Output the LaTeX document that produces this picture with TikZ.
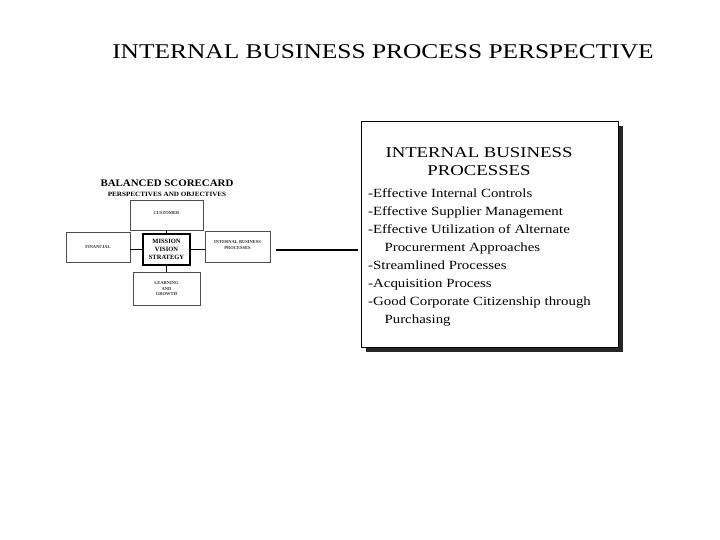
\documentclass[tikz,border=0pt]{standalone}
\usepackage{fontspec}
\setmainfont{Liberation Serif}
\begin{document}
\begin{tikzpicture}[x=1pt,y=-1pt,
  sbox/.style={draw=black!70,fill=white,line width=0.6pt,inner sep=0pt},
  stxt/.style={font=\fontsize{4.5}{5.5}\selectfont\bfseries,align=center,text=black!80}]
\useasboundingbox (0,0) rectangle (720,540);
\node[font=\fontsize{21}{24}\selectfont] (title) at (383,52) {\scalebox{1.21}[1]{INTERNAL BUSINESS PROCESS PERSPECTIVE}};
\node[font=\fontsize{10}{11}\selectfont\bfseries] (bs) at (167,183) {\scalebox{1.09}[1]{BALANCED SCORECARD}};
\node[font=\fontsize{6.5}{7}\selectfont\bfseries] (po) at (167,194) {\scalebox{1.1}[1]{PERSPECTIVES AND OBJECTIVES}};
% boxes
\draw[sbox] (130,200) rectangle (203,230); \node[stxt] (cu) at (166.5,213) {CUSTOMER};
\draw[sbox] (66,232) rectangle (130,262); \node[stxt] (fi) at (98,247) {FINANCIAL};
\draw[sbox] (205,231) rectangle (270,262); \node[stxt] (ib) at (237.5,245) {INTERNAL BUSINESS\\PROCESSES};
\draw[sbox] (133,272) rectangle (200,305); \node[stxt] (lg) at (166.5,289) {LEARNING\\AND\\GROWTH};
\draw (166.5,230) -- (166.5,234);
\draw (166.5,265) -- (166.5,272);
\draw (130,249) -- (143,249);
\draw (190,249) -- (205,249);
\draw[line width=1.6pt,fill=white] (143,234) rectangle (190,265);
\node[font=\fontsize{6.5}{8}\selectfont\bfseries,align=center] (mv) at (166.5,249.5) {MISSION\\VISION\\STRATEGY};
% connector
\coordinate (l1) at (276,250); \coordinate (l2) at (358,250);
\draw[line width=1.3pt] (l1) -- (l2);
% big box
\fill[black!85] (366,126) rectangle (623,352);
\draw[fill=white,line width=0.8pt] (361,121) rectangle (618,347);
\node[font=\fontsize{15}{17}\selectfont] (h1) at (479,153) {\scalebox{1.25}[1]{INTERNAL BUSINESS}};
\node[font=\fontsize{15}{17}\selectfont] (h2) at (479,171) {\scalebox{1.25}[1]{PROCESSES}};
\node[font=\fontsize{12.5}{18}\selectfont,anchor=north west,inner sep=0pt] (lst) at (368,185)
{\scalebox{1.19}[1]{\begin{tabular}{@{}l@{}}-Effective Internal Controls\\-Effective Supplier Management\\-Effective Utilization of Alternate\\\hspace*{1.1em}Procurerment Approaches\\-Streamlined Processes\\-Acquisition Process\\-Good Corporate Citizenship through\\\hspace*{1.1em}Purchasing\end{tabular}}};
\end{tikzpicture}
\end{document}
